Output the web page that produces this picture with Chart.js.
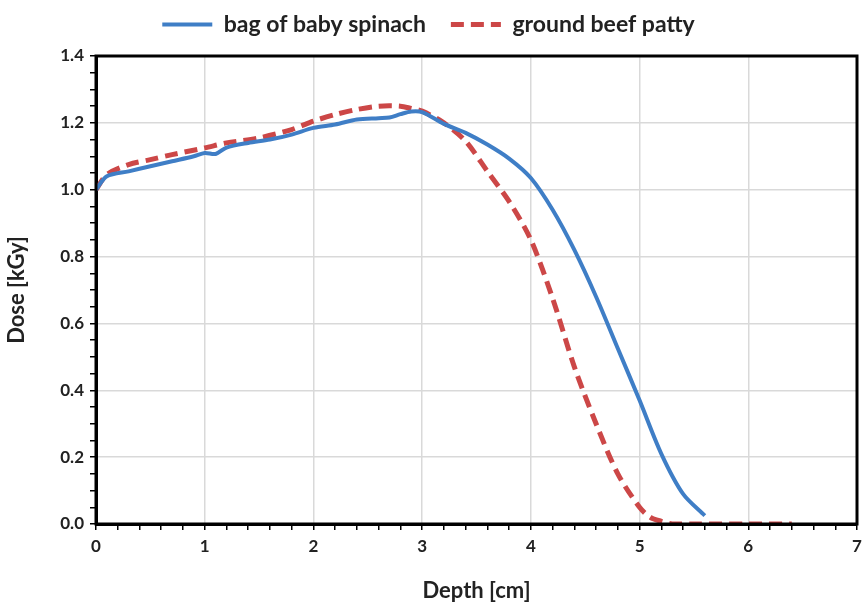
<!DOCTYPE html>
<html>
<head>
<meta charset="utf-8">
<script src="https://cdn.jsdelivr.net/npm/chart.js@4"></script>
<style>
  html, body { margin: 0; padding: 0; background: #fff; }
  #wrap { width: 868px; height: 608px; }
</style>
</head>
<body>
<div id="wrap"><canvas id="chart" width="868" height="608"></canvas></div>
<script>
// depth [cm] and dose [kGy]
const spinachDepth = [0, 0.1, 0.3, 0.5, 0.7, 0.9, 1.0, 1.1, 1.2, 1.4, 1.6, 1.8, 2.0, 2.2, 2.4, 2.6, 2.7, 2.8, 2.9, 3.0, 3.2, 3.4, 3.6, 3.8, 4.0, 4.2, 4.4, 4.6, 4.8, 5.0, 5.2, 5.4, 5.6];
const spinachDose = [1.00, 1.04, 1.055, 1.07, 1.085, 1.10, 1.11, 1.107, 1.126, 1.14, 1.15, 1.165, 1.185, 1.195, 1.21, 1.214, 1.216, 1.226, 1.234, 1.232, 1.197, 1.17, 1.135, 1.093, 1.035, 0.94, 0.82, 0.68, 0.525, 0.37, 0.21, 0.09, 0.025];

const beefDepth = [0, 0.1, 0.3, 0.5, 0.7, 1.0, 1.2, 1.5, 1.8, 2.0, 2.2, 2.4, 2.6, 2.8, 2.9, 3.0, 3.2, 3.4, 3.6, 3.8, 4.0, 4.2, 4.4, 4.6, 4.8, 5.0, 5.1, 5.2, 5.3, 5.5, 6.0, 6.4];
const beefDose = [1.00, 1.045, 1.075, 1.09, 1.105, 1.125, 1.14, 1.155, 1.18, 1.205, 1.225, 1.24, 1.25, 1.25, 1.243, 1.235, 1.20, 1.145, 1.055, 0.965, 0.85, 0.675, 0.47, 0.30, 0.15, 0.05, 0.02, 0.008, 0, 0, 0, 0];

const seriesNames = ['bag of baby spinach', 'ground beef patty'];

const toPoints = (xs, ys) => xs.map((x, i) => ({ x: x, y: ys[i] }));
const near = (v, step) => Math.abs(v / step - Math.round(v / step)) < 1e-6;

const FONT = 'Lato, "Open Sans", "DejaVu Sans", sans-serif';
const GRID = '#d9d9d9';

// thick black frame round the plot area
const frame = {
  id: 'frame',
  afterDatasetsDraw(chart) {
    const a = chart.chartArea;
    const ctx = chart.ctx;
    ctx.save();
    ctx.strokeStyle = '#000';
    ctx.lineWidth = 3;
    ctx.strokeRect(a.left, a.top, a.right - a.left, a.bottom - a.top);
    ctx.restore();
  }
};

// a bit more room under the legend
const legendGap = {
  id: 'legendGap',
  afterInit(chart) {
    const lg = chart.legend;
    if (!lg) return;
    const fit = lg.fit;
    lg.fit = function () {
      fit.call(this);
      this.height += 10;
    };
  }
};

const config = {
  type: 'scatter',
  data: {
    datasets: [
      {
        label: seriesNames[0],
        data: toPoints(spinachDepth, spinachDose),
        showLine: true,
        borderColor: '#3f7ec6',
        backgroundColor: '#3f7ec6',
        borderWidth: 4,
        pointRadius: 0,
        pointStyle: 'line',
        tension: 0.3,
        fill: false,
      },
      {
        label: seriesNames[1],
        data: toPoints(beefDepth, beefDose),
        showLine: true,
        borderColor: '#cc4747',
        backgroundColor: '#cc4747',
        borderWidth: 5,
        borderDash: [13, 7],
        pointRadius: 0,
        pointStyle: 'line',
        tension: 0.3,
        fill: false,
      },
    ],
  },
  options: {
    responsive: false,
    animation: false,
    layout: { padding: { left: 0, right: 11, top: -12, bottom: 0 } },
    scales: {
      x: {
        type: 'linear',
        min: 0,
        max: 7,
        afterFit: (s) => { s.height = 84; },
        ticks: {
          stepSize: 0.2,
          autoSkip: false,
          maxRotation: 0,
          color: '#222',
          padding: 6,
          font: { family: FONT, size: 17, weight: 'bold' },
          callback: (v) => near(v, 1) ? String(Math.round(v)) : '',
        },
        grid: {
          color: (c) => (c.tick && near(c.tick.value, 1)) ? GRID : 'transparent',
          tickColor: '#000',
          tickLength: 6,
          lineWidth: 1.5,
        },
        border: { color: '#000', width: 3 },
        title: {
          display: true,
          text: 'Depth [cm]',
          color: '#222',
          font: { family: FONT, size: 22, weight: 'bold' },
          padding: { top: 6 },
        },
      },
      y: {
        min: 0,
        max: 1.4,
        afterFit: (s) => { s.width = 96; },
        ticks: {
          stepSize: 0.05,
          autoSkip: false,
          color: '#222',
          padding: 6,
          font: { family: FONT, size: 17, weight: 'bold' },
          callback: (v) => near(v, 0.2) ? v.toFixed(1) : '',
        },
        grid: {
          color: (c) => (c.tick && near(c.tick.value, 0.2)) ? GRID : 'transparent',
          tickColor: '#000',
          tickLength: 6,
          lineWidth: 1.5,
        },
        border: { color: '#000', width: 3 },
        title: {
          display: true,
          text: 'Dose [kGy]',
          color: '#222',
          font: { family: FONT, size: 22, weight: 'bold' },
          padding: { bottom: 4 },
        },
      },
    },
    plugins: {
      tooltip: { enabled: false },
      legend: {
        display: true,
        position: 'top',
        labels: {
          usePointStyle: true,
          pointStyle: 'line',
          pointStyleWidth: 50,
          boxHeight: 6,
          padding: 25,
          color: '#222',
          font: { family: FONT, size: 23, weight: 'bold' },
          generateLabels(chart) {
            const items = Chart.defaults.plugins.legend.labels.generateLabels(chart);
            items.forEach((it) => {
              const ds = chart.data.datasets[it.datasetIndex];
              it.lineDash = ds.borderDash || [];
              it.strokeStyle = ds.borderColor;
              it.lineWidth = ds.borderWidth;
            });
            return items;
          },
        },
      },
    },
  },
  plugins: [frame, legendGap],
};

new Chart(document.getElementById('chart').getContext('2d'), config);
</script>
</body>
</html>
